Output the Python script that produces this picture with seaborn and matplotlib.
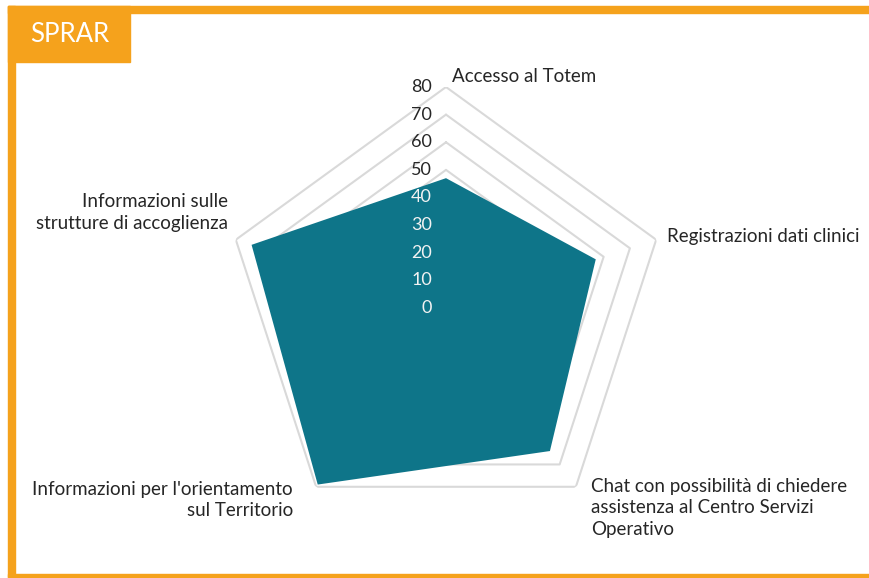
import numpy as np
import matplotlib
matplotlib.use('Agg')
import matplotlib.pyplot as plt
import seaborn as sns
from matplotlib.patches import Rectangle

# data
categories = [
    'Accesso al Totem',
    'Registrazioni dati clinici',
    'Chat con possibilità di chiedere\nassistenza al Centro Servizi\nOperativo',
    "Informazioni per l'orientamento\nsul Territorio",
    'Informazioni sulle\nstrutture di accoglienza',
]
values = [47, 57, 64, 79, 74]
rings = [0, 10, 20, 30, 40, 50, 60, 70, 80]
title = 'SPRAR'

sns.set_style('white')
plt.rcParams['font.family'] = ['Lato', 'DejaVu Sans']

fill_color = '#0e7589'
grid_color = '#d9d9d9'
orange = '#f5a21c'

W, H = 869, 578
fig = plt.figure(figsize=(W / 100, H / 100), dpi=100)

# orange frame and header box
fig.patches.append(Rectangle((8 / W, 1 - 13 / H), 1 - 8 / W, 7 / H, transform=fig.transFigure,
                             color=orange, zorder=0))
fig.patches.append(Rectangle((8 / W, 0), 7 / W, 1 - 6 / H, transform=fig.transFigure,
                             color=orange, zorder=0))
fig.patches.append(Rectangle((8 / W, 1 / H), 1 - 8 / W, 3 / H, transform=fig.transFigure,
                             color=orange, zorder=0))
fig.patches.append(Rectangle((8 / W, 1 - 62 / H), 122 / W, 56 / H, transform=fig.transFigure,
                             color=orange, zorder=0))
fig.text(30 / W, 1 - 35 / H, title, color='white', fontsize=18.5, va='center', ha='left')

cx, cy, R = 446, 308, 221
ax = fig.add_axes([(cx - R) / W, (H - cy - R) / H, 2 * R / W, 2 * R / H], projection='polar')
ax.set_facecolor('none')
ax.set_theta_offset(np.pi / 2)
ax.set_theta_direction(-1)
ax.set_ylim(0, max(rings))
ax.set_xticks([])
ax.set_yticks([])
ax.grid(False)
ax.spines['polar'].set_visible(False)

n = len(categories)
angles = np.linspace(0, 2 * np.pi, n, endpoint=False).tolist()
closed = angles + angles[:1]

for r in rings[1:]:
    ax.plot(closed, [r] * (n + 1), color=grid_color, lw=1.5, zorder=1)

ax.fill(closed, values + values[:1], color=fill_color, zorder=2, lw=0)

for r in rings:
    col = '#f2f2f2' if r <= 40 else '#262626'
    ax.annotate(str(r), xy=(0, r), xytext=(-14, 0), textcoords='offset pixels',
                ha='right', va='center', fontsize=13, color=col, zorder=3)

# category labels placed next to each outer vertex
label_opts = [
    dict(xytext=(6, 11), ha='left', va='center'),
    dict(xytext=(11, 3), ha='left', va='center'),
    dict(xytext=(15, 9), ha='left', va='top'),
    dict(xytext=(-23, 6), ha='right', va='top'),
    dict(xytext=(-8, 27), ha='right', va='center'),
]
for ang, lab, opt in zip(angles, categories, label_opts):
    ax.annotate(lab, xy=(ang, max(rings)), textcoords='offset pixels', fontsize=13.5,
                color='#262626', linespacing=1.32, annotation_clip=False, **opt)

plt.savefig('out.png', dpi=100)
plt.close()
